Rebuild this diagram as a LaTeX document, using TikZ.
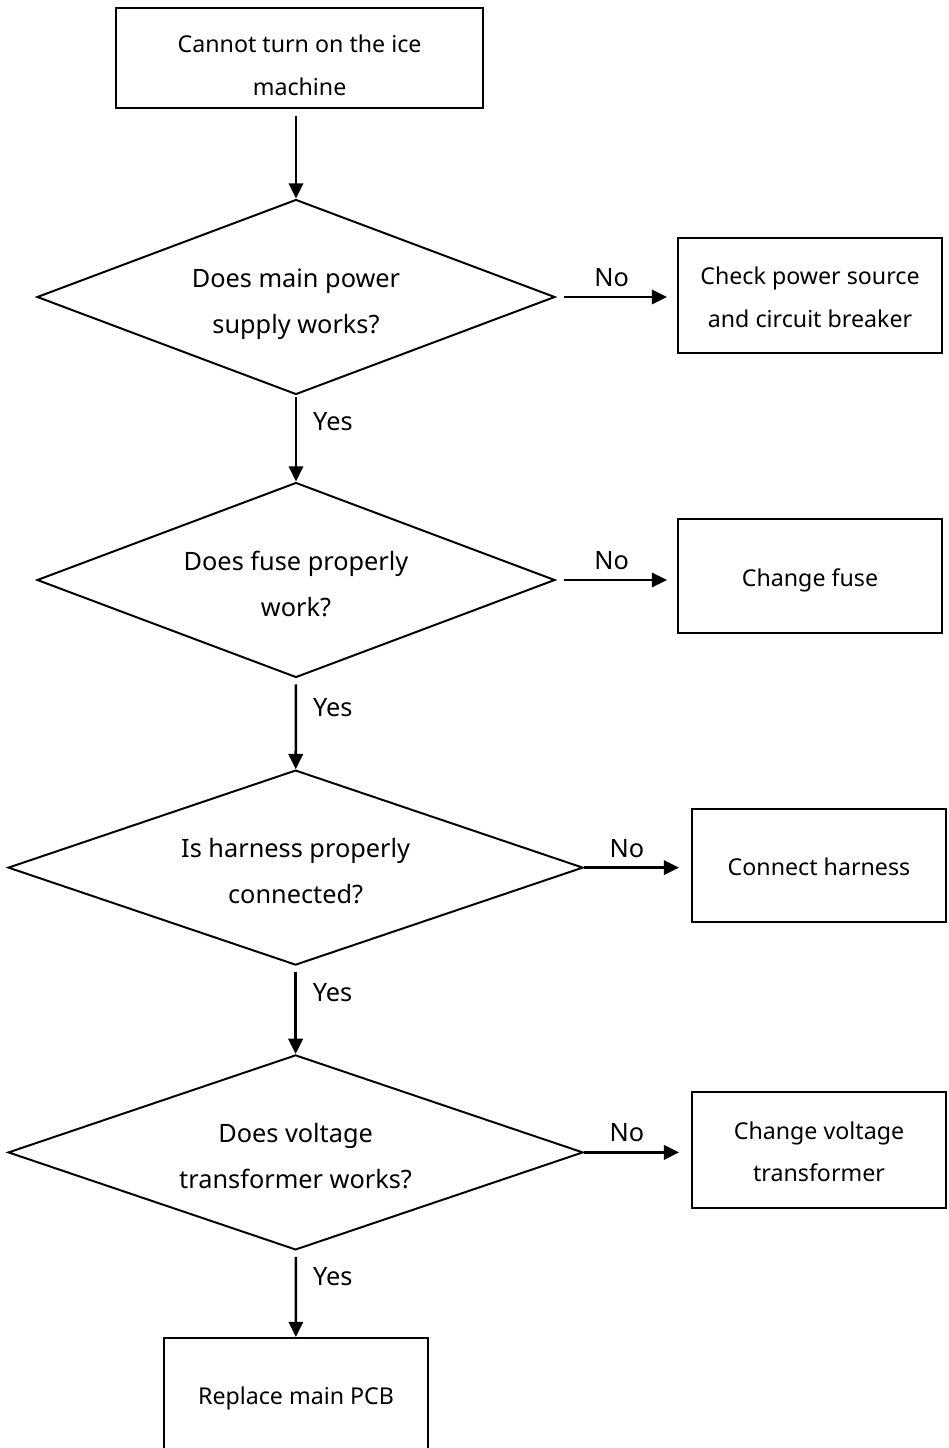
\documentclass[tikz,border=0pt]{standalone}
\usepackage{fontspec}
\setmainfont{Noto Sans}
\usetikzlibrary{shapes.geometric,arrows.meta}

\begin{document}
\begin{tikzpicture}[
  box/.style={draw,line width=1.4pt,align=center,text height=0.65cm,text depth=0.15cm,font=\fontsize{16.5}{30}\selectfont},
  twoline/.style={text height=1.72cm},
  decision/.style={draw,diamond,line width=1.4pt,align=center,inner sep=0pt,aspect=2.6,text height=1.95cm,text depth=0.15cm,
    minimum height=4.875cm,font=\fontsize{18}{32.6}\selectfont},
  flow/.style={-{Triangle[length=0.38cm,width=0.36cm]},line width=1.8pt},
  lbl/.style={font=\fontsize{18}{22}\selectfont}
]
  \useasboundingbox (0,0) rectangle (23.7,-36.2);
  \node[box,twoline,text height=2cm,minimum width=9.175cm,minimum height=2.5cm] (start) at (7.49,-1.45) {Cannot turn on the ice\\machine};
  \node[decision,minimum width=12.95cm] (power) at (7.4,-7.425) {Does main power\\supply works?};
  \node[box,twoline,minimum width=6.6cm,minimum height=2.875cm] (source) at (20.25,-7.39) {Check power source\\and circuit breaker};
  \node[decision,minimum width=12.95cm] (fuse) at (7.4,-14.5) {Does fuse properly\\work?};
  \node[box,minimum width=6.6cm,minimum height=2.85cm] (newfuse) at (20.25,-14.4) {Change fuse};
  \node[decision,minimum width=14.375cm] (harness) at (7.39,-21.69) {Is harness properly\\connected?};
  \node[box,minimum width=6.35cm,minimum height=2.825cm] (connect) at (20.475,-21.64) {Connect harness};
  \node[decision,minimum width=14.375cm] (voltage) at (7.39,-28.81) {Does voltage\\transformer works?};
  \node[box,twoline,minimum width=6.35cm,minimum height=2.9cm] (newtrans) at (20.475,-28.75) {Change voltage\\transformer};
  \node[box,minimum width=6.6cm,minimum height=2.8cm] (pcb) at (7.4,-34.85) {Replace main PCB};

  \draw[flow,shorten <=0.175cm] (start.south -| power.north) -- (power.north);
  \draw[flow,shorten <=0.05cm] (power) -- (fuse) node[lbl,pos=0.3,right=8pt] {Yes};
  \draw[flow,shorten <=0.15cm] (fuse) -- (harness) node[lbl,pos=0.32,right=8pt] {Yes};
  \draw[flow,shorten <=0.15cm] (harness) -- (voltage) node[lbl,pos=0.3,right=8pt] {Yes};
  \draw[flow,shorten <=0.15cm] (voltage) -- (pcb) node[lbl,pos=0.3,right=8pt] {Yes};
  \draw[flow,shorten <=0.2cm,shorten >=0.25cm] (power.east) -- (power.east -| source.west) node[lbl,pos=0.46,above=3pt] {No};
  \draw[flow,shorten <=0.2cm,shorten >=0.25cm] (fuse.east) -- (fuse.east -| newfuse.west) node[lbl,pos=0.46,above=3pt] {No};
  \draw[flow,shorten >=0.3cm] (harness.east) -- (harness.east -| connect.west) node[lbl,pos=0.4,above=3pt] {No};
  \draw[flow,shorten >=0.3cm] (voltage.east) -- (voltage.east -| newtrans.west) node[lbl,pos=0.4,above=3pt] {No};
\end{tikzpicture}
\end{document}
